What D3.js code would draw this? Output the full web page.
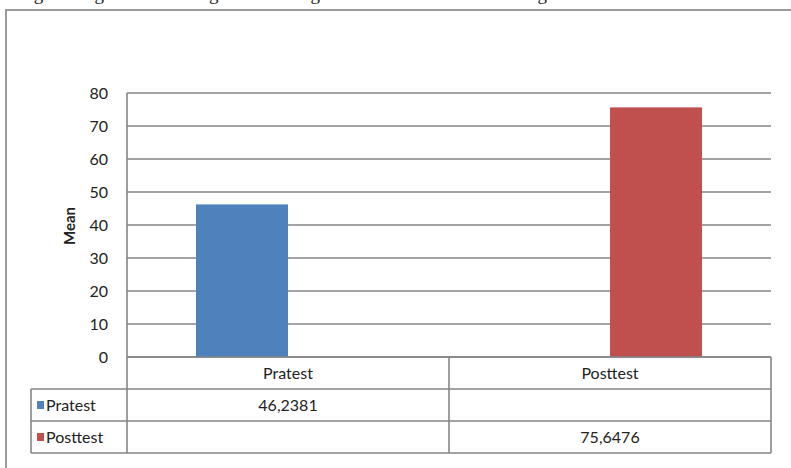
<!DOCTYPE html>
<html>
<head>
<meta charset="utf-8">
<script src="https://cdn.jsdelivr.net/npm/d3@7"></script>
<style>
html,body{margin:0;padding:0;background:#fff;}
svg{display:block;}
</style>
</head>
<body>
<svg id="chart" width="791" height="468"></svg>
<script>
// Data
const categories = ["Pratest", "Posttest"];
const seriesNames = ["Pratest", "Posttest"];
const pratestValues = [46.2381, null];
const posttestValues = [null, 75.6476];
const tableLabels = [["46,2381", ""], ["", "75,6476"]];
const yTicks = [0, 10, 20, 30, 40, 50, 60, 70, 80];
const seriesColors = ["#4F81BD", "#C0504D"];
const titleText = "Fig. 1 Diagram of the Cognitive Average Difference between Starting Data and Final Data";

const svg = d3.select("#chart");
const font = "Lato, 'Open Sans', sans-serif";
const plotL = 127, plotR = 771, plotT = 93, plotB = 357;
const rowH = 32;
const legendL = 31;
const gridColor = "#858585";

// title (cut off at the top edge, as in the reference crop)
svg.append("text")
  .attr("x", 18).attr("y", 0)
  .attr("font-family", "'Liberation Serif', 'DejaVu Serif', serif")
  .attr("font-size", 19)
  .attr("fill", "#222")
  .text(titleText);

// outer frame (extends beyond right/bottom)
svg.append("rect")
  .attr("x", 6).attr("y", 10)
  .attr("width", 900).attr("height", 600)
  .attr("fill", "none")
  .attr("stroke", "#9a9a9a")
  .attr("stroke-width", 2);

const x = d3.scaleBand().domain(categories).range([plotL, plotR]).paddingInner(0).paddingOuter(0);
const xs = d3.scaleBand().domain(seriesNames).range([0, x.bandwidth()]).paddingInner(0).paddingOuter(0.75);
const y = d3.scaleLinear().domain([0, 80]).range([plotB, plotT]);

// gridlines
svg.append("g").selectAll("line").data(yTicks).join("line")
  .attr("x1", plotL).attr("x2", plotR)
  .attr("y1", d => y(d)).attr("y2", d => y(d))
  .attr("stroke", gridColor).attr("stroke-width", 1.6);

// y axis labels
const yAxis = d3.axisLeft(y).tickValues(yTicks).tickSize(0).tickPadding(19);
const gy = svg.append("g").attr("transform", `translate(${plotL},0)`).call(yAxis);
gy.select(".domain").remove();
gy.selectAll("text").attr("font-family", font).attr("font-size", 16).attr("fill", "#222");

// Mean label
svg.append("text")
  .attr("transform", `translate(75,${(plotT + plotB) / 2 + 1}) rotate(-90)`)
  .attr("text-anchor", "middle")
  .attr("font-family", font).attr("font-weight", "bold").attr("font-size", 15)
  .attr("fill", "#222")
  .text("Mean");

// bars
const seriesData = [pratestValues, posttestValues];
seriesData.forEach((vals, si) => {
  svg.append("g").selectAll("rect")
    .data(categories.map((c, i) => ({c, v: vals[i]})).filter(d => d.v != null))
    .join("rect")
    .attr("x", d => x(d.c) + xs(seriesNames[si]))
    .attr("width", xs.bandwidth())
    .attr("y", d => y(d.v))
    .attr("height", d => y(0) - y(d.v))
    .attr("fill", seriesColors[si]);
});

// axis line (left) through the header row
svg.append("line")
  .attr("x1", plotL).attr("x2", plotL)
  .attr("y1", plotT).attr("y2", plotB + rowH * 3)
  .attr("stroke", gridColor).attr("stroke-width", 1.6);

// data table
const tg = svg.append("g");
const rowsY = [plotB, plotB + rowH, plotB + rowH * 2, plotB + rowH * 3];
tg.selectAll("line.h").data(rowsY).join("line")
  .attr("x1", (d, i) => i === 0 ? plotL : legendL)
  .attr("x2", plotR)
  .attr("y1", d => d).attr("y2", d => d)
  .attr("stroke", gridColor).attr("stroke-width", 1.6);
const vLines = [
  {x: x(categories[1]), y1: plotB, y2: rowsY[3]},
  {x: plotR, y1: plotB, y2: rowsY[3]},
  {x: legendL, y1: rowsY[1], y2: rowsY[3]}
];
tg.selectAll("line.v").data(vLines).join("line")
  .attr("x1", d => d.x).attr("x2", d => d.x)
  .attr("y1", d => d.y1).attr("y2", d => d.y2)
  .attr("stroke", gridColor).attr("stroke-width", 1.6);

// header labels
tg.selectAll("text.hdr").data(categories).join("text")
  .attr("x", d => x(d) + x.bandwidth() / 2)
  .attr("y", plotB + rowH / 2)
  .attr("dy", "0.35em")
  .attr("text-anchor", "middle")
  .attr("font-family", font).attr("font-size", 16).attr("fill", "#222")
  .text(d => d);

// rows
seriesNames.forEach((s, si) => {
  const ry = rowsY[si + 1];
  tg.append("rect")
    .attr("x", 37).attr("y", ry + rowH / 2 - 4)
    .attr("width", 7).attr("height", 8)
    .attr("fill", seriesColors[si]);
  tg.append("text")
    .attr("x", 46).attr("y", ry + rowH / 2)
    .attr("dy", "0.35em")
    .attr("font-family", font).attr("font-size", 16).attr("fill", "#222")
    .text(s);
  categories.forEach((c, ci) => {
    tg.append("text")
      .attr("x", x(c) + x.bandwidth() / 2)
      .attr("y", ry + rowH / 2)
      .attr("dy", "0.35em")
      .attr("text-anchor", "middle")
      .attr("font-family", font).attr("font-size", 16).attr("fill", "#222")
      .text(tableLabels[si][ci]);
  });
});
</script>
</body>
</html>
